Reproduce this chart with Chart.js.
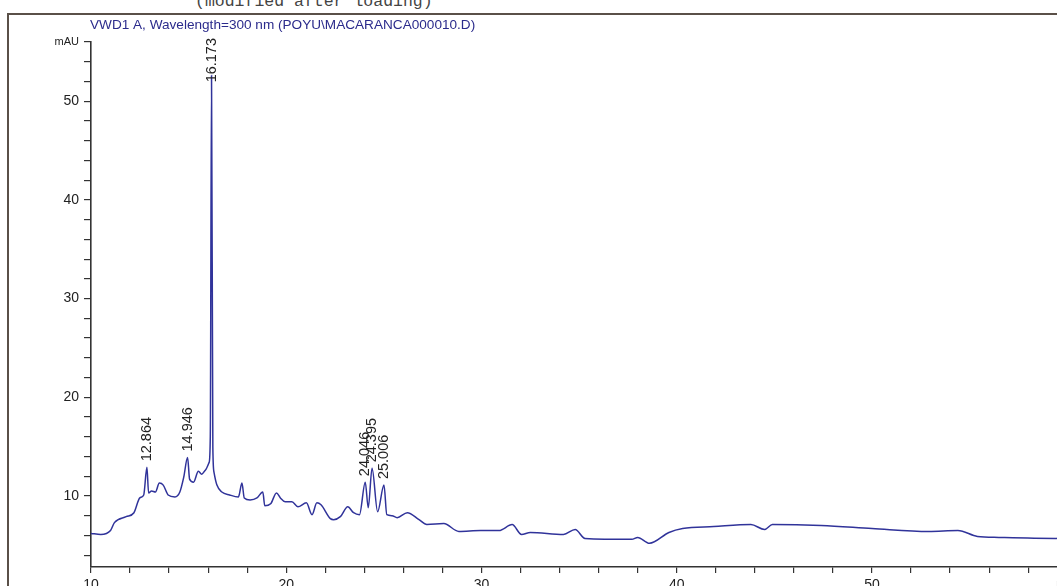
<!DOCTYPE html>
<html>
<head>
<meta charset="utf-8">
<script src="https://cdn.jsdelivr.net/npm/chart.js@4"></script>
<style>
  body { margin: 0; background: #fff; overflow: hidden; width: 1057px; height: 586px; position: relative; }
  #note { position: absolute; left: 195px; top: -6px; font: 16.5px "Liberation Mono", monospace; line-height: 1; color: #444; white-space: pre; }
  canvas { position: absolute; left: 0; top: 0; }
</style>
</head>
<body>
<div id="note">(modified after loading)</div>
<canvas id="chart" width="1100" height="610"></canvas>
<script>
// retention time (min) and absorbance (mAU)
const times = [10.0, 10.5, 11.0, 11.2, 11.8, 12.2, 12.5, 12.7, 12.864, 12.95, 13.1, 13.3, 13.5, 13.7, 13.95,
  14.3, 14.55, 14.75, 14.946, 15.05, 15.25, 15.5, 15.67, 15.85, 16.05, 16.11, 16.173, 16.24, 16.3, 16.45, 16.7,
  17.1, 17.55, 17.73, 17.85, 18.15, 18.5, 18.8, 18.9, 19.2, 19.5, 19.7, 19.95, 20.29, 20.6, 21.03, 21.32,
  21.57, 21.78, 22.26, 22.43, 22.77, 23.15, 23.45, 23.75, 24.046, 24.2, 24.395, 24.68, 25.006, 25.15,
  25.42, 25.68, 26.2, 26.8, 27.2, 28.07, 28.84, 29.95, 30.9, 31.57, 32.05, 32.5, 34.2, 34.8, 35.3, 37.7,
  38.0, 38.6, 39.6, 40.3, 41.9, 43.8, 44.5, 44.9, 47.4, 50.0, 52.9, 54.4, 55.4, 56.5, 59.4, 60.5];
const mAU = [6.2, 6.1, 6.5, 7.3, 7.9, 8.3, 9.8, 10.1, 12.9, 10.3, 10.5, 10.4, 11.3, 11.1, 10.1,
  9.9, 10.4, 11.9, 13.9, 11.7, 11.4, 12.5, 12.2, 12.6, 13.4, 16.0, 52.6, 15.0, 12.4, 11.1, 10.4,
  10.1, 9.9, 11.3, 9.8, 9.6, 9.8, 10.4, 9.0, 9.2, 10.3, 9.8, 9.4, 9.4, 8.9, 9.3, 8.1,
  9.3, 9.1, 7.7, 7.6, 7.9, 8.9, 8.3, 8.1, 11.4, 8.8, 12.8, 8.4, 11.1, 8.1,
  8.0, 7.8, 8.3, 7.6, 7.1, 7.2, 6.4, 6.5, 6.5, 7.1, 6.1, 6.3, 6.1, 6.6, 5.7, 5.6,
  5.8, 5.2, 6.3, 6.7, 6.9, 7.1, 6.6, 7.1, 7.0, 6.7, 6.4, 6.5, 5.9, 5.8, 5.7, 5.8];

// labelled peaks
const peakTimes = [12.864, 14.946, 16.173, 24.046, 24.395, 25.006];
const peakHeights = [12.9, 13.9, 52.6, 11.4, 12.8, 11.1];
const peakNames = ['12.864', '14.946', '16.173', '24.046', '24.395', '25.006'];

const xTicks = [10, 12, 14, 16, 18, 20, 22, 24, 26, 28, 30, 32, 34, 36, 38, 40, 42, 44, 46, 48, 50, 52, 54, 56, 58, 60];
const xLabels = { 10: '10', 20: '20', 30: '30', 40: '40', 50: '50', 60: 'min' };
const yTicks = [4, 6, 8, 10, 12, 14, 16, 18, 20, 22, 24, 26, 28, 30, 32, 34, 36, 38, 40, 42, 44, 46, 48, 50, 52, 54, 56];
const yLabels = { 10: '10', 20: '20', 30: '30', 40: '40', 50: '50', 56: 'mAU' };

const title = 'VWD1 A, Wavelength=300 nm (POYU\\MACARANCA000010.D)';

const decor = {
  id: 'decor',
  beforeDraw(chart) {
    const ctx = chart.ctx;
    ctx.save();
    ctx.strokeStyle = '#5a5048';
    ctx.lineWidth = 2;
    ctx.strokeRect(8, 14, 1400, 1000);
    ctx.restore();
  },
  afterDraw(chart) {
    const ctx = chart.ctx;
    const xs = chart.scales.x, ys = chart.scales.y;
    ctx.save();
    ctx.fillStyle = '#2b2b8c';
    ctx.font = '13.6px "Liberation Sans", Arial, sans-serif';
    ctx.textBaseline = 'alphabetic';
    ctx.fillText(title, 90, 29);

    ctx.fillStyle = '#222';
    ctx.font = '14.5px "Liberation Sans", Arial, sans-serif';
    ctx.textBaseline = 'middle';
    ctx.textAlign = 'left';
    peakTimes.forEach((t, i) => {
      const px = xs.getPixelForValue(t);
      let bottom = ys.getPixelForValue(peakHeights[i]) - 6;
      const w = ctx.measureText(peakNames[i]).width;
      if (bottom - w < 38) bottom = 38 + w;
      ctx.save();
      ctx.translate(px, bottom);
      ctx.rotate(-Math.PI / 2);
      ctx.fillText(peakNames[i], 0, 0);
      ctx.restore();
    });
    ctx.restore();
  }
};

new Chart(document.getElementById('chart'), {
  type: 'line',
  data: {
    datasets: [{
      data: times.map((t, i) => ({ x: t, y: mAU[i] })),
      borderColor: '#30339a',
      borderWidth: 1.5,
      pointRadius: 0,
      cubicInterpolationMode: 'monotone',
      fill: false
    }]
  },
  options: {
    responsive: false,
    animation: false,
    layout: { padding: { left: 0, top: 42, right: 23, bottom: 0 } },
    plugins: { legend: { display: false }, tooltip: { enabled: false } },
    scales: {
      x: {
        type: 'linear',
        min: 10,
        max: 60.5,
        afterBuildTicks: s => { s.ticks = xTicks.map(v => ({ value: v })); },
        afterFit: s => { s.height = 43; },
        grid: { drawOnChartArea: false, drawTicks: true, tickLength: 6, color: '#333', lineWidth: 1.2 },
        border: { display: true, color: '#333', width: 1.6 },
        ticks: {
          autoSkip: false,
          maxRotation: 0,
          padding: 4,
          color: '#222',
          font: { family: '"Liberation Sans", Arial, sans-serif', size: 14 },
          callback: v => xLabels[v] || ''
        }
      },
      y: {
        min: 2.8,
        max: 56,
        afterBuildTicks: s => { s.ticks = yTicks.map(v => ({ value: v })); },
        afterFit: s => { s.width = 91; },
        grid: { drawOnChartArea: false, drawTicks: true, tickLength: 7, color: '#333', lineWidth: 1.2 },
        border: { display: true, color: '#333', width: 1.6 },
        ticks: {
          autoSkip: false,
          padding: 5,
          color: '#222',
          font: c => ({ family: '"Liberation Sans", Arial, sans-serif', size: (c.tick && c.tick.value === 56) ? 11 : 14 }),
          callback: v => yLabels[v] || ''
        }
      }
    }
  },
  plugins: [decor]
});
</script>
</body>
</html>
